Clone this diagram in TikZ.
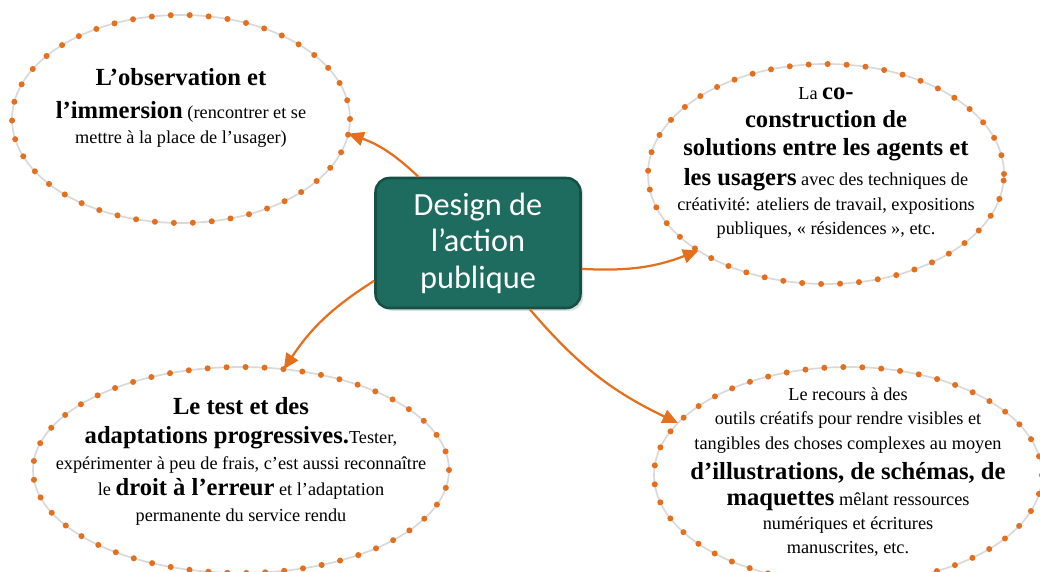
\documentclass[tikz,border=0pt]{standalone}
\usepackage{fontspec}
\setmainfont{Liberation Serif}
\newfontfamily\boxfont{Carlito}
\usetikzlibrary{arrows.meta,shapes.geometric,shadows}
\definecolor{dotorange}{RGB}{228,112,30}
\definecolor{boxteal}{RGB}{30,108,96}
\definecolor{boxedge}{RGB}{20,80,70}
\newcommand{\bb}[1]{{\fontsize{17.5}{22}\selectfont\bfseries #1}}

\begin{document}
\begin{tikzpicture}[
  bubble/.style={ellipse, fill=white, draw=black!15, line width=1.2pt, inner sep=0pt, outer sep=0pt,
    postaction={draw=dotorange, line width=4.3pt, line cap=round, dash pattern=on 0pt off 13.5pt}},
  bubtext/.style={align=center, inner sep=0pt, font=\fontsize{13}{17}\selectfont},
  link/.style={draw=dotorange, line width=1.6pt, -{Triangle[length=11pt,width=10pt]}, bend right=12}]
\useasboundingbox (0,0) rectangle (26,14.275);
\node[bubble, minimum width=8.45cm, minimum height=5.2cm] (obs) at (4.525,11.3) {};
\node[bubble, minimum width=8.9cm, minimum height=5.5cm] (cocon) at (20.65,9.925) {};
\node[bubble, minimum width=10.4cm, minimum height=5.15cm] (test) at (6.025,2.525) {};
\node[bubble, minimum width=9.7cm, minimum height=5.4cm] (outils) at (21.2,2.4) {};
\node[bubtext] (obstext) at ([yshift=0.275cm]obs.center)
  {\bb{L’observation et}\\[6pt] \bb{l’immersion} (rencontrer et se\\[1pt] mettre à la place de l’usager)};
\node[bubtext] (cocontext) at ([yshift=0.275cm]cocon.center)
  {La \bb{co-}\\[3pt] \bb{construction de}\\[3pt] \bb{solutions entre les agents et}\\[4pt]
   \bb{les usagers} avec des techniques de\\[1pt] créativité: ateliers de travail, expositions\\
   publiques, « résidences », etc.};
\node[bubtext] (testtext) at ([yshift=0.225cm]test.center)
  {\bb{Le test et des}\\[4pt] \bb{adaptations progressives.}Tester,\\[1pt]
   expérimenter à peu de frais, c’est aussi reconnaître\\[2pt] le \bb{droit à l’erreur} et l’adaptation\\[1pt]
   permanente du service rendu};
\node[bubtext] (outilstext) at ([yshift=0.075cm]outils.center)
  {Le recours à des\\ outils créatifs pour rendre visibles et\\[1pt] tangibles des choses complexes au moyen\\[4pt]
   \bb{d’illustrations, de schémas, de}\\[2pt] \bb{maquettes} mêlant ressources\\ numériques et écritures\\
   manuscrites, etc.};
\node[rounded corners=0.35cm, fill=boxteal, draw=boxedge, line width=1.8pt, minimum width=5.125cm,
  minimum height=3.25cm, align=center, text=white, font=\boxfont\fontsize{23}{26}\selectfont,
  drop shadow={opacity=0.25, shadow xshift=2pt, shadow yshift=-2pt}] (design) at (11.95,8.2)
  {Design de\\l’action\\publique};
\draw[link] (design.132) to (obs.-5);
\draw[link] (design.-14) to (cocon.211);
\draw[link] (design.200) to (test.67);
\draw[link] (design.-52) to (outils.163);
\end{tikzpicture}
\end{document}
